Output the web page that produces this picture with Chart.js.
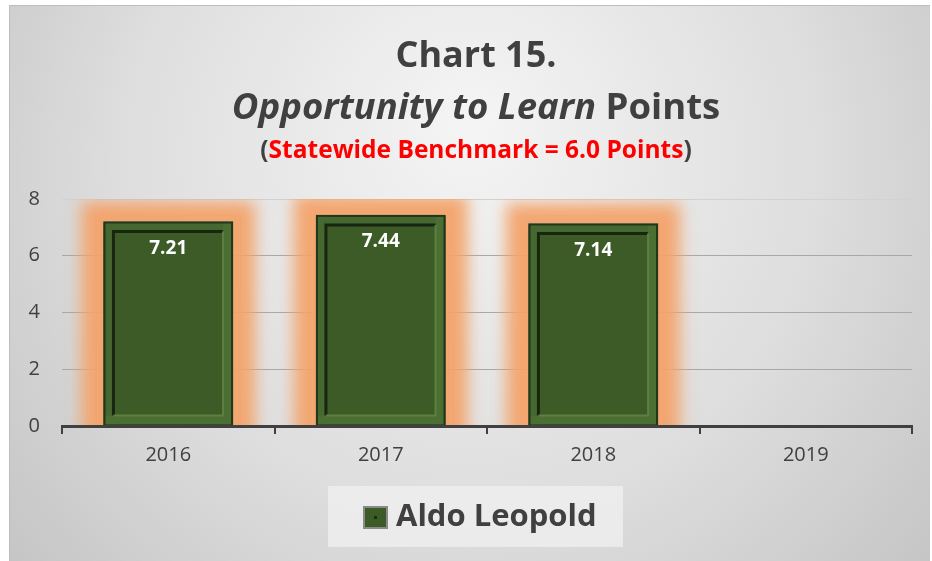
<!DOCTYPE html>
<html><head><meta charset="utf-8">
<script src="https://cdn.jsdelivr.net/npm/chart.js@4.4.1/dist/chart.umd.min.js"></script>
<style>html,body{margin:0;padding:0;background:#fff;overflow:hidden}#wrap{width:932px;height:561px;position:relative}</style>
</head><body><div id="wrap"><canvas id="c" width="932" height="561"></canvas></div>
<script>
const categories = ['2016', '2017', '2018', '2019'];
const seriesName = 'Aldo Leopold';
const values = [7.21, 7.44, 7.14, null];
const yTickValues = [0, 2, 4, 6, 8];
const titleLine1 = 'Chart 15.';
const titleItalic = 'Opportunity to Learn';
const titleRest = ' Points';
const subtitleText = 'Statewide Benchmark = 6.0 Points';

const FONT = '"Open Sans", "DejaVu Sans", sans-serif';
const TEXT = '#404040';
const BAR = '#3d5b27';

const bgPlugin = {
  id: 'bg',
  beforeDraw(chart) {
    const ctx = chart.ctx;
    ctx.save();
    ctx.fillStyle = '#ffffff';
    ctx.fillRect(0, 0, chart.width, chart.height);
    const g = ctx.createRadialGradient(470, 120, 10, 470, 200, 620);
    g.addColorStop(0, '#f4f4f4');
    g.addColorStop(0.55, '#dedede');
    g.addColorStop(1, '#c2c2c2');
    ctx.fillStyle = g;
    ctx.fillRect(9, 5, chart.width - 11, chart.height - 5);
    ctx.strokeStyle = '#bdbdbd';
    ctx.lineWidth = 1;
    ctx.beginPath();
    ctx.moveTo(9.5, chart.height);
    ctx.lineTo(9.5, 5.5);
    ctx.lineTo(chart.width - 2, 5.5);
    ctx.stroke();
    ctx.restore();
  }
};

const glowPlugin = {
  id: 'glow',
  beforeDatasetsDraw(chart) {
    const ctx = chart.ctx, area = chart.chartArea;
    const meta = chart.getDatasetMeta(0);
    ctx.save();
    ctx.beginPath();
    ctx.rect(area.left, area.top, area.right - area.left, area.bottom - area.top);
    ctx.clip();
    meta.data.forEach((el, i) => {
      if (values[i] == null) return;
      const p = el.getProps(['x', 'y', 'base', 'width'], true);
      const l = p.x - p.width / 2 - 22, r = p.x + p.width / 2 + 22;
      const t = p.y - 20;
      ctx.filter = 'blur(8px)';
      ctx.fillStyle = 'rgba(243,162,105,0.95)';
      ctx.fillRect(l, t, r - l, p.base - t + 40);
      ctx.filter = 'none';
    });
    ctx.restore();
  },
  afterDatasetsDraw(chart) {
    const ctx = chart.ctx, area = chart.chartArea;
    const meta = chart.getDatasetMeta(0);
    ctx.save();
    meta.data.forEach((el, i) => {
      if (values[i] == null) return;
      const p = el.getProps(['x', 'y', 'base', 'width'], true);
      const l = p.x - p.width / 2, r = p.x + p.width / 2, t = p.y, b = p.base;
      // top highlight
      ctx.strokeStyle = '#cfd3cb';
      ctx.lineWidth = 1;
      ctx.beginPath(); ctx.moveTo(l, t + 0.5); ctx.lineTo(r, t + 0.5); ctx.stroke();
      // bevel frame
      ctx.fillStyle = '#456730';
      ctx.fillRect(l + 2, t + 2, r - l - 4, 8);
      ctx.fillRect(l + 2, t + 2, 8, b - t - 2);
      ctx.fillStyle = '#4b6e33';
      ctx.fillRect(l + 2, b - 10, r - l - 4, 9);
      ctx.fillRect(r - 10, t + 2, 8, b - t - 3);
      const inset = 10;
      ctx.lineWidth = 3;
      ctx.strokeStyle = '#18260f';
      ctx.beginPath();
      ctx.moveTo(l + inset, b - inset);
      ctx.lineTo(l + inset, t + inset);
      ctx.lineTo(r - inset, t + inset);
      ctx.stroke();
      ctx.lineWidth = 2;
      ctx.strokeStyle = '#5c8040';
      ctx.beginPath();
      ctx.moveTo(r - inset, t + inset);
      ctx.lineTo(r - inset, b - inset);
      ctx.lineTo(l + inset, b - inset);
      ctx.stroke();
      ctx.lineWidth = 2;
      ctx.strokeStyle = '#22361a';
      ctx.strokeRect(l + 1, t + 1, r - l - 2, b - t - 1);
      // value label
      ctx.fillStyle = '#ffffff';
      ctx.font = 'bold 19px ' + FONT;
      ctx.textAlign = 'center';
      ctx.textBaseline = 'middle';
      ctx.fillText(values[i].toFixed(2), p.x, t + 27);
    });
    // category axis line on top of bars and glow
    ctx.fillStyle = '#404040';
    ctx.fillRect(area.left - 1, area.bottom - 1, area.right - area.left + 2, 3);
    ctx.restore();
  }
};

const textPlugin = {
  id: 'texts',
  afterDraw(chart) {
    const ctx = chart.ctx;
    const cx = 476;
    ctx.save();
    ctx.textBaseline = 'alphabetic';
    ctx.fillStyle = TEXT;
    ctx.textAlign = 'left';
    // line 1
    ctx.font = 'bold 36px ' + FONT;
    let w = ctx.measureText(titleLine1).width;
    ctx.fillText(titleLine1, cx - w / 2, 67);
    // line 2
    const f2 = 36.5;
    ctx.font = 'italic bold ' + f2 + 'px ' + FONT;
    const wi = ctx.measureText(titleItalic).width;
    ctx.font = 'bold ' + f2 + 'px ' + FONT;
    const wr = ctx.measureText(titleRest).width;
    let x = cx - (wi + wr) / 2;
    ctx.font = 'italic bold ' + f2 + 'px ' + FONT;
    ctx.fillText(titleItalic, x, 119);
    ctx.font = 'bold ' + f2 + 'px ' + FONT;
    ctx.fillText(titleRest, x + wi, 119);
    // subtitle
    ctx.font = 'bold 24.5px ' + FONT;
    const wp = ctx.measureText('(').width;
    const ws = ctx.measureText(subtitleText).width;
    const wq = ctx.measureText(')').width;
    x = cx - (wp + ws + wq) / 2;
    ctx.fillStyle = TEXT;
    ctx.fillText('(', x, 158);
    ctx.fillStyle = '#ff0000';
    ctx.fillText(subtitleText, x + wp, 158);
    ctx.fillStyle = TEXT;
    ctx.fillText(')', x + wp + ws, 158);
    // legend
    ctx.fillStyle = 'rgba(240,240,240,0.75)';
    ctx.fillRect(328, 486, 295, 61);
    ctx.fillStyle = '#8a8a8a';
    ctx.fillRect(363, 506, 25, 23);
    ctx.fillStyle = BAR;
    ctx.fillRect(365, 508, 21, 19);
    ctx.fillStyle = '#1d2d12';
    ctx.fillRect(374, 516, 3, 3);
    ctx.fillStyle = TEXT;
    ctx.font = 'bold 31px ' + FONT;
    ctx.textBaseline = 'middle';
    ctx.fillText(chart.data.datasets[0].label, 396, 517);
    ctx.restore();
  }
};

new Chart(document.getElementById('c'), {
  type: 'bar',
  data: {
    labels: categories,
    datasets: [{
      label: seriesName,
      data: values,
      backgroundColor: BAR,
      borderWidth: 0,
      barPercentage: 0.61,
      categoryPercentage: 1
    }]
  },
  options: {
    responsive: false,
    devicePixelRatio: 1,
    animation: false,
    layout: { padding: { top: 199, right: 20, bottom: 0, left: 0 } },
    plugins: { legend: { display: false }, title: { display: false }, tooltip: { enabled: false } },
    scales: {
      x: {
        afterFit(s) { s.height = 135; },
        grid: { display: true, drawOnChartArea: false, drawTicks: true, tickLength: 8, color: '#404040', lineWidth: 2, offset: true },
        border: { display: true, color: '#404040', width: 3 },
        ticks: { color: TEXT, font: { family: FONT, size: 20 }, padding: 9 }
      },
      y: {
        min: 0, max: 8,
        afterFit(s) { s.width = 62; },
        afterBuildTicks(s) { s.ticks = yTickValues.map(v => ({ value: v })); },
        grid: { drawTicks: false, color: c => (c.tick && c.tick.value === 8) ? '#d2d2d2' : '#a8a8a8', lineWidth: 1 },
        border: { display: false },
        ticks: { color: TEXT, font: { family: FONT, size: 20 }, padding: 22 }
      }
    }
  },
  plugins: [bgPlugin, glowPlugin, textPlugin]
});
</script></body></html>
